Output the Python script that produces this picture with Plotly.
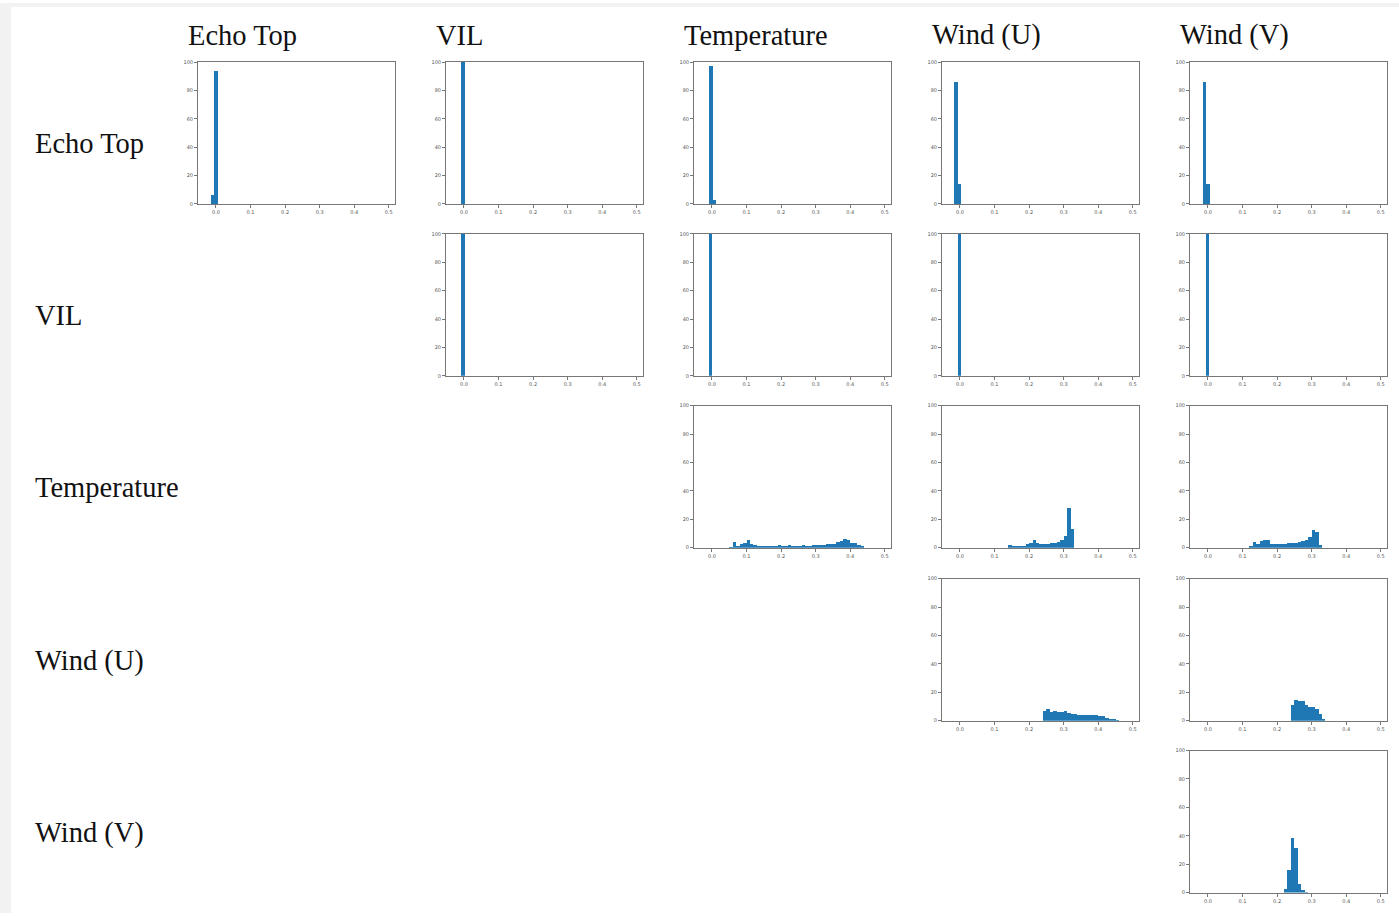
import plotly.graph_objects as go

# Variable names used for both rows and columns of the grid
VARIABLES = ["Echo Top", "VIL", "Temperature", "Wind (U)", "Wind (V)"]

# Histogram bin width (fraction units), percent of samples per bin
BIN_WIDTH = 0.01

# Upper-triangle panels: first bin edge and bin heights (%)
echo_echo_start = -0.015
echo_echo = [6, 94]
echo_vil_start = -0.008
echo_vil = [100]
echo_temp_start = -0.008
echo_temp = [97, 3]
echo_windu_start = -0.017
echo_windu = [86, 14]
echo_windv_start = -0.015
echo_windv = [86, 14]

vil_vil_start = -0.008
vil_vil = [100]
vil_temp_start = -0.009
vil_temp = [100]
vil_windu_start = -0.006
vil_windu = [100]
vil_windv_start = -0.006
vil_windv = [100]

temp_temp_start = 0.05
temp_temp = [0.5, 4, 1.5, 2.5, 3.5, 5.8, 3, 1.8, 1.5, 1.5, 1.3, 1.5, 1.2, 0.8,
             2, 1.3, 0.8, 2, 1.5, 1.2, 1.3, 1.8, 1.5, 1.5, 2, 2.2, 2.3, 2.3,
             2.5, 2.8, 3, 4, 5, 6.5, 5.5, 3.5, 3.2, 2.2, 1]
temp_windu_start = 0.14
temp_windu = [2, 1.2, 1.2, 1.2, 1, 2.5, 3.3, 5.8, 3.5, 2.8, 2.8, 2.8, 3.2,
              3.5, 4, 5.4, 8.2, 28, 13.4]
temp_windv_start = 0.12
temp_windv = [0.7, 4, 2.5, 4.6, 5.3, 5.5, 2.6, 2.6, 2.7, 2.8, 3, 3.2, 3.4,
              3.7, 4.2, 4.8, 5.6, 7.5, 13, 11.5, 2]

windu_windu_start = 0.24
windu_windu = [6.8, 8.5, 6.6, 6.8, 6.3, 6.3, 7, 5.9, 5.2, 5, 4.5, 4, 4.2, 4,
               4, 3.9, 3.6, 3.2, 2.4, 1.4, 0.7, 0.3]
windu_windv_start = 0.24
windu_windv = [11, 14.6, 14.4, 13.8, 11.6, 9.6, 10, 8.6, 4.8, 1]

windv_windv_start = 0.22
windv_windv = [3, 16, 39, 32, 6, 2, 0.5]

X_TICKS = [0.0, 0.1, 0.2, 0.3, 0.4, 0.5]
X_TICK_TEXT = ["0.0", "0.1", "0.2", "0.3", "0.4", "0.5"]
Y_TICKS = [0, 20, 40, 60, 80, 100]

# (row, col, first edge, heights)
panels = [
    (0, 0, echo_echo_start, echo_echo),
    (0, 1, echo_vil_start, echo_vil),
    (0, 2, echo_temp_start, echo_temp),
    (0, 3, echo_windu_start, echo_windu),
    (0, 4, echo_windv_start, echo_windv),
    (1, 1, vil_vil_start, vil_vil),
    (1, 2, vil_temp_start, vil_temp),
    (1, 3, vil_windu_start, vil_windu),
    (1, 4, vil_windv_start, vil_windv),
    (2, 2, temp_temp_start, temp_temp),
    (2, 3, temp_windu_start, temp_windu),
    (2, 4, temp_windv_start, temp_windv),
    (3, 3, windu_windu_start, windu_windu),
    (3, 4, windu_windv_start, windu_windv),
    (4, 4, windv_windv_start, windv_windv),
]

# Page geometry in pixels
W, H = 1399, 916
COL_LEFT = [198, 446, 694, 942, 1190]
ROW_TOP = [59.4, 232.4, 405.4, 579.5, 752.5]
PANEL_W, PANEL_H = 197, 142.9
BAR_COLOR = "#1f77b4"
SERIF = "Liberation Serif, Times New Roman, serif"

fig = go.Figure()
layout = {}

for i, (r, c, start, heights) in enumerate(panels, start=1):
    centers = [start + BIN_WIDTH * (k + 0.5) for k in range(len(heights))]
    xa = "x" if i == 1 else f"x{i}"
    ya = "y" if i == 1 else f"y{i}"
    fig.add_trace(go.Bar(
        x=centers, y=heights, width=BIN_WIDTH,
        marker=dict(color=BAR_COLOR, line=dict(width=0)),
        xaxis=xa, yaxis=ya, showlegend=False, hoverinfo="x+y",
    ))
    left = COL_LEFT[c]
    top = ROW_TOP[r]
    axis_style = dict(
        showline=True, mirror=True, linecolor="#777", linewidth=1,
        ticks="outside", ticklen=3, tickwidth=1, tickcolor="#777",
        tickfont=dict(size=5, color="#555", family="DejaVu Sans"),
        showgrid=False, zeroline=False, fixedrange=True,
    )
    layout["xaxis" if i == 1 else f"xaxis{i}"] = dict(
        domain=[left / W, (left + PANEL_W) / W],
        anchor=ya, range=[-0.052, 0.518],
        tickvals=X_TICKS, ticktext=X_TICK_TEXT, **axis_style)
    layout["yaxis" if i == 1 else f"yaxis{i}"] = dict(
        domain=[1 - (top + PANEL_H) / H, 1 - top / H],
        anchor=xa, range=[0, 100], tickvals=Y_TICKS, **axis_style)

annotations = []
# Column headers
for c, name in enumerate(VARIABLES):
    annotations.append(dict(
        text=name, x=(COL_LEFT[c] - 12) / W, y=1 - 32.5 / H,
        xref="paper", yref="paper", xanchor="left", yanchor="middle",
        showarrow=False, font=dict(family=SERIF, size=28.5, color="#111")))
# Row headers
for r, name in enumerate(VARIABLES):
    annotations.append(dict(
        text=name, x=33 / W, y=1 - (ROW_TOP[r] + 82.5) / H,
        xref="paper", yref="paper", xanchor="left", yanchor="middle",
        showarrow=False, font=dict(family=SERIF, size=28.5, color="#111")))

# Light gray page border strips on the left and top
border = [
    dict(type="rect", xref="paper", yref="paper", x0=0, x1=11 / W, y0=0, y1=1,
         fillcolor="#f2f2f2", line=dict(width=0), layer="below"),
    dict(type="rect", xref="paper", yref="paper", x0=0, x1=1, y0=1 - 4 / H, y1=1,
         fillcolor="#f2f2f2", line=dict(width=0), layer="below"),
]

fig.update_layout(
    width=W, height=H,
    margin=dict(l=0, r=0, t=0, b=0),
    paper_bgcolor="white", plot_bgcolor="white",
    bargap=0, barmode="overlay",
    annotations=annotations,
    shapes=border,
    **layout,
)

fig.write_html("out.html")
